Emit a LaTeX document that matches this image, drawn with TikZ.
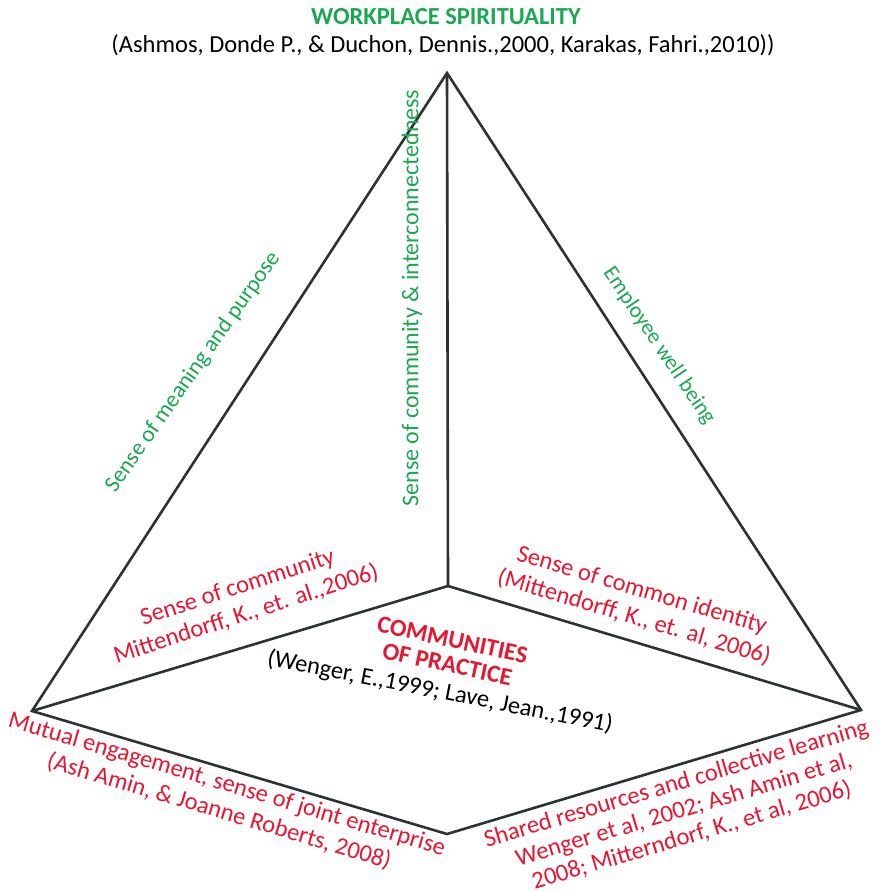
\documentclass[tikz,border=0pt]{standalone}
\usepackage{fontspec}
\setmainfont{Carlito}
\definecolor{wsgreen}{RGB}{27,168,80}
\definecolor{copred}{RGB}{232,22,48}
\definecolor{edgegray}{RGB}{45,50,50}
\begin{document}
\begin{tikzpicture}[x=1pt,y=-1pt,
  edge/.style={draw=edgegray,line width=2.6pt,line join=miter},
  greenlbl/.style={text=wsgreen,font=\fontsize{23}{26}\selectfont,inner sep=0pt},
  redlbl/.style={text=copred,font=\fontsize{24.5}{28}\selectfont,align=center,inner sep=0pt},
  blacklbl/.style={text=black,font=\fontsize{24.5}{28}\selectfont,inner sep=0pt},
  titlelbl/.style={text=wsgreen,font=\fontsize{24.5}{28}\selectfont\bfseries,inner sep=0pt},
  coplbl/.style={text=copred,font=\fontsize{24.5}{25}\selectfont\bfseries,align=center,inner sep=0pt}]
\useasboundingbox (0,0) rectangle (883,891);
\fill[white] (0,0) rectangle (883,891);
% vertices
\coordinate (A) at (447,73);
\coordinate (L) at (32,711);
\coordinate (B) at (447,834);
\coordinate (R) at (861,710);
\coordinate (C) at (448,586);
% edges
\draw[edge] (A) -- (L) -- (B) -- (R) -- cycle;
\draw[edge] (A) -- (C);
\draw[edge] (L) -- (C) -- (R);
% titles
\node[titlelbl] (title) at (446,17) {WORKPLACE SPIRITUALITY};
\node[blacklbl] (cite) at (443,45) {(Ashmos, Donde P., \& Duchon, Dennis.,2000, Karakas, Fahri.,2010))};
% green edge labels
\node[greenlbl,rotate=55] (meaning) at (193,372) {Sense of meaning and purpose};
\node[greenlbl,font=\fontsize{24}{26}\selectfont,rotate=90] (interconn) at (412,298) {Sense of community \& interconnectedness};
\node[greenlbl,font=\fontsize{22}{26}\selectfont,rotate=-56] (wellbeing) at (659,346) {Employee well being};
% red labels
\node[redlbl,rotate=18] (senscomm) at (242,601) {Sense of community\\Mittendorff, K., et. al.,2006)};
\node[redlbl,rotate=-16.5] (identity) at (638,604) {Sense of common identity\\(Mittendorff, K., et. al, 2006)};
\node[coplbl,rotate=-12] (cop) at (450,652) {COMMUNITIES\\OF PRACTICE};
\node[blacklbl,rotate=-11] (wenger) at (440,692) {(Wenger, E.,1999; Lave, Jean.,1991)};
\node[redlbl,rotate=-16.5] (mutual) at (223,798) {Mutual engagement, sense of joint enterprise\\(Ash Amin, \& Joanne Roberts, 2008)};
\node[redlbl,font=\fontsize{24.5}{27}\selectfont,rotate=16.5] (shared) at (684,810) {Shared resources and collective learning\\Wenger et al, 2002; Ash Amin et al,\\2008; Mitterndorf, K., et al, 2006)};
\end{tikzpicture}
\end{document}
